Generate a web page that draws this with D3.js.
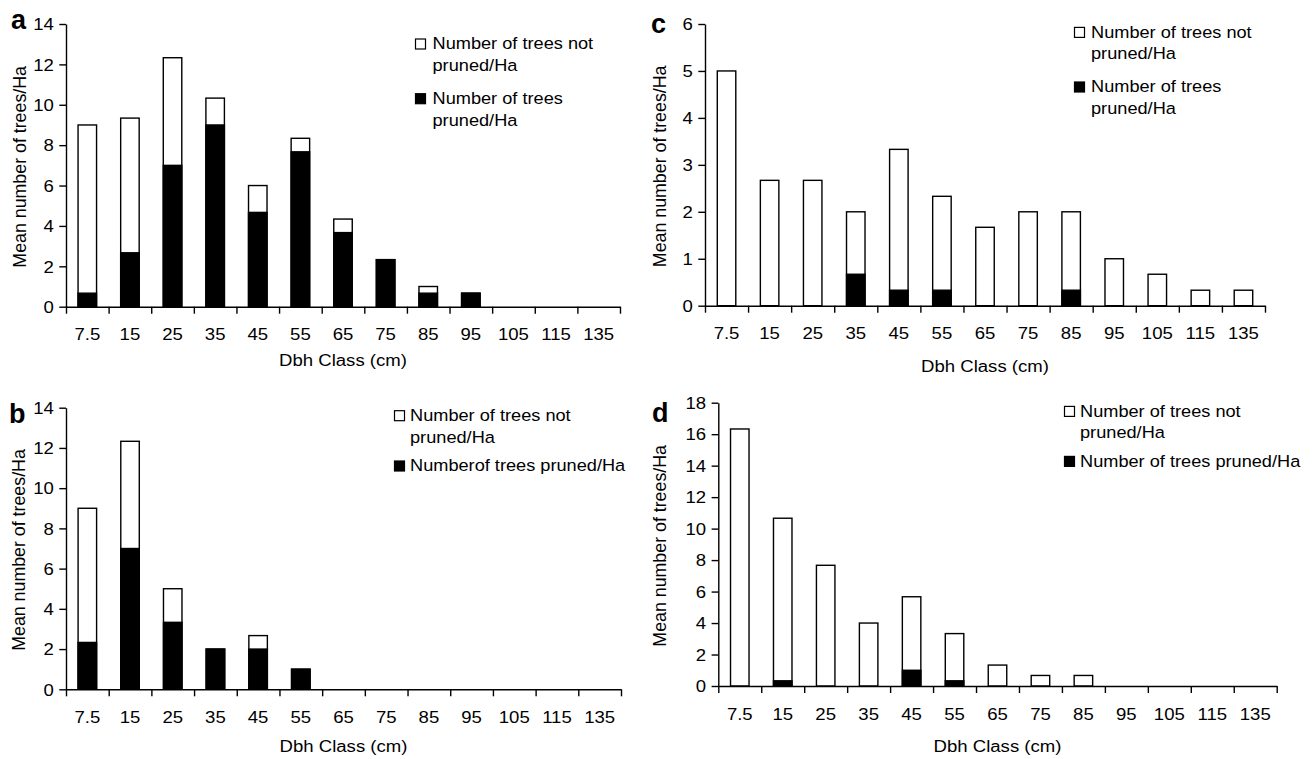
<!DOCTYPE html>
<html>
<head>
<meta charset="utf-8">
<script src="https://cdn.jsdelivr.net/npm/d3@7"></script>
<style>
  html, body { margin: 0; padding: 0; background: #fff; }
  svg { display: block; }
  text { font-family: "Liberation Sans", Arial, Helvetica, sans-serif; fill: #000; }
</style>
</head>
<body>
<svg id="chart" width="1314" height="759"></svg>
<script>
// ---- Data ----
const categories = ["7.5","15","25","35","45","55","65","75","85","95","105","115","135"];

const aPruned    = [0.67, 2.67, 7, 9, 4.67, 7.67, 3.67, 2.33, 0.67, 0.67, 0, 0, 0];
const aNotPruned = [8.33, 6.67, 5.33, 1.33, 1.33, 0.67, 0.67, 0, 0.33, 0, 0, 0, 0];

const bPruned    = [2.33, 7, 3.33, 2, 2, 1, 0, 0, 0, 0, 0, 0, 0];
const bNotPruned = [6.67, 5.33, 1.67, 0, 0.67, 0, 0, 0, 0, 0, 0, 0, 0];

const cPruned    = [0, 0, 0, 0.67, 0.33, 0.33, 0, 0, 0.33, 0, 0, 0, 0];
const cNotPruned = [5, 2.67, 2.67, 1.33, 3, 2, 1.67, 2, 1.67, 1, 0.67, 0.33, 0.33];

const dPruned    = [0, 0.33, 0, 0, 1, 0.33, 0, 0, 0, 0, 0, 0, 0];
const dNotPruned = [16.33, 10.33, 7.67, 4, 4.67, 3, 1.33, 0.67, 0.67, 0, 0, 0, 0];

const aTicks = [0, 2, 4, 6, 8, 10, 12, 14];
const bTicks = [0, 2, 4, 6, 8, 10, 12, 14];
const cTicks = [0, 1, 2, 3, 4, 5, 6];
const dTicks = [0, 2, 4, 6, 8, 10, 12, 14, 16, 18];

const xTitle = "Dbh Class (cm)";
const yTitle = "Mean number of trees/Ha";
const legendA = [["Number of trees not", "pruned/Ha"], ["Number of trees", "pruned/Ha"]];
const legendB = [["Number of trees not", "pruned/Ha"], ["Numberof trees pruned/Ha"]];
const legendC = [["Number of trees not", "pruned/Ha"], ["Number of trees", "pruned/Ha"]];
const legendD = [["Number of trees not", "pruned/Ha"], ["Number of trees pruned/Ha"]];

// ---- Layout (positions only) ----
const panels = [
  { letter: "a", pruned: aPruned, notPruned: aNotPruned, ticks: aTicks, legend: legendA,
    x0: 66, x1: 620, yTop: 24, yBot: 306.7, letterX: 11, letterY: 29,
    yTitleX: 26, xTitleDy: 59.5,
    leg: { sq: 415, tx: 432.5, rows: [49.3, 104] } },
  { letter: "b", pruned: bPruned, notPruned: bNotPruned, ticks: bTicks, legend: legendB,
    x0: 66, x1: 621, yTop: 407.7, yBot: 689.3, letterX: 9, letterY: 422.7,
    yTitleX: 25, xTitleDy: 62.4,
    leg: { sq: 394, tx: 410, rows: [421, 471.3] } },
  { letter: "c", pruned: cPruned, notPruned: cNotPruned, ticks: cTicks, legend: legendC,
    x0: 705, x1: 1265, yTop: 24, yBot: 305.7, letterX: 651, letterY: 32.7,
    yTitleX: 666, xTitleDy: 66,
    leg: { sq: 1074, tx: 1091, rows: [37.7, 92.3] } },
  { letter: "d", pruned: dPruned, notPruned: dNotPruned, ticks: dTicks, legend: legendD,
    x0: 718.3, x1: 1276.7, yTop: 402.7, yBot: 686, letterX: 652, letterY: 421.7,
    yTitleX: 666, xTitleDy: 65.7,
    leg: { sq: 1064, tx: 1080, rows: [416.7, 466.7] } }
];

const svg = d3.select("#chart");
const TICK_FS = 16, SX = 1.16;

panels.forEach(p => {
  const g = svg.append("g");
  const x = d3.scaleBand().domain(categories).range([p.x0, p.x1]).paddingInner(0).paddingOuter(0);
  const xi = d3.scaleLinear().domain([0, categories.length]).range([p.x0, p.x1]);
  const y = d3.scaleLinear().domain([p.ticks[0], p.ticks[p.ticks.length - 1]]).range([p.yBot, p.yTop]);

  const rows = categories.map((c, i) => ({ cat: c, pruned: p.pruned[i], notPruned: p.notPruned[i] }));
  const stack = d3.stack().keys(["pruned", "notPruned"])(rows);
  const bw = 18.5;

  // full bar outline (white), then pruned segment (black)
  const totals = stack[1];
  g.append("g").selectAll("rect.tot").data(totals).join("rect")
    .attr("x", d => x(d.data.cat) + x.bandwidth() / 2 - bw / 2)
    .attr("width", bw)
    .attr("y", d => y(d[1]))
    .attr("height", d => y(0) - y(d[1]))
    .attr("fill", "#fff")
    .attr("stroke", d => d[1] > 0 ? "#000" : "none")
    .attr("stroke-width", 1.4);

  g.append("g").selectAll("rect.pr").data(stack[0]).join("rect")
    .attr("x", d => x(d.data.cat) + x.bandwidth() / 2 - bw / 2)
    .attr("width", bw)
    .attr("y", d => y(d[1]))
    .attr("height", d => y(0) - y(d[1]))
    .attr("fill", "#000")
    .attr("stroke", d => d[1] > 0 ? "#000" : "none")
    .attr("stroke-width", 1.4);

  // y axis
  const ya = g.append("g").attr("transform", `translate(${p.x0},0)`)
    .call(d3.axisLeft(y).tickValues(p.ticks).tickSize(6.7).tickSizeOuter(0).tickFormat(d3.format("d")));
  ya.select(".domain").attr("stroke", "#000").attr("stroke-width", 1.4);
  ya.selectAll(".tick line").attr("stroke", "#000").attr("stroke-width", 1.4);
  ya.selectAll(".tick text")
    .attr("x", null).attr("dy", "0.36em")
    .attr("transform", `translate(-12.2,0) scale(${SX},1)`)
    .style("font-size", TICK_FS + "px")
    .style("font-family", '"Liberation Sans", Arial, sans-serif')
    .attr("fill", "#000");

  // x axis: boundary ticks
  const xb = g.append("g").attr("transform", `translate(0,${p.yBot})`)
    .call(d3.axisBottom(xi).tickValues(d3.range(categories.length + 1)).tickSize(7).tickSizeOuter(0).tickFormat(""));
  xb.select(".domain").attr("stroke", "#000").attr("stroke-width", 1.4);
  xb.selectAll(".tick line").attr("stroke", "#000").attr("stroke-width", 1.4);

  // x axis: category labels
  const xl = g.append("g").attr("transform", `translate(0,${p.yBot})`)
    .call(d3.axisBottom(x).tickSize(0).tickSizeOuter(0));
  xl.select(".domain").remove();
  xl.selectAll(".tick text")
    .attr("y", null).attr("dy", null)
    .attr("transform", `translate(0,33.5) scale(${SX},1)`)
    .style("font-size", TICK_FS + "px")
    .style("font-family", '"Liberation Sans", Arial, sans-serif')
    .attr("fill", "#000");

  // x title
  g.append("text")
    .attr("transform", `translate(${(p.x0 + p.x1) / 2},${p.yBot + p.xTitleDy}) scale(${SX},1)`)
    .attr("text-anchor", "middle")
    .style("font-size", TICK_FS + "px")
    .text(xTitle);

  // y title
  g.append("text")
    .attr("transform", `translate(${p.yTitleX},${(p.yTop + p.yBot) / 2 + 1.5}) rotate(-90)`)
    .attr("text-anchor", "middle")
    .style("font-size", "17.8px")
    .text(yTitle);

  // panel letter
  g.append("text")
    .attr("x", p.letterX).attr("y", p.letterY)
    .style("font-size", "27px").style("font-weight", "bold")
    .text(p.letter);

  // legend
  const fills = ["#fff", "#000"];
  p.legend.forEach((lines, k) => {
    const base = p.leg.rows[k];
    g.append("rect")
      .attr("x", p.leg.sq + 0.5).attr("y", base - 10.3)
      .attr("width", 10).attr("height", 10)
      .attr("fill", fills[k]).attr("stroke", "#000").attr("stroke-width", 1.2);
    lines.forEach((ln, j) => {
      g.append("text")
        .attr("transform", `translate(${p.leg.tx},${base + j * 21.6}) scale(1.07,1)`)
        .style("font-size", "17px")
        .text(ln);
    });
  });
});
</script>
</body>
</html>
